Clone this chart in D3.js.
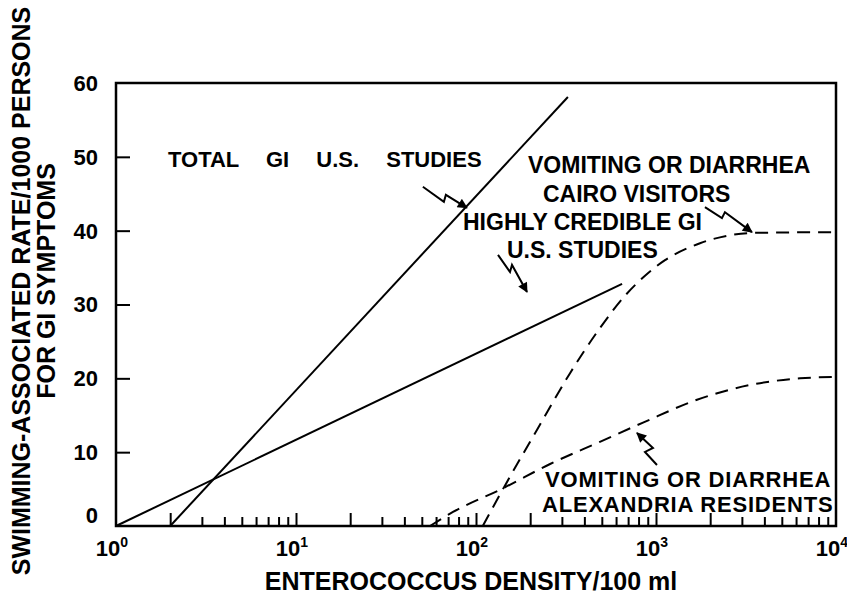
<!DOCTYPE html>
<html>
<head>
<meta charset="utf-8">
<script src="https://cdn.jsdelivr.net/npm/d3@7"></script>
<style>
  body { margin: 0; background: #fff; }
  text { font-family: "Liberation Sans", Arial, sans-serif; font-weight: bold; fill: #000; }
</style>
</head>
<body>
<svg id="chart"></svg>
<script>
// Axis values
const xDecades = [1, 10, 100, 1000, 10000];
const xExponents = ["0", "1", "2", "3", "4"];
const yTicks = [0, 10, 20, 30, 40, 50, 60];

// Series: [enterococcus density, rate per 1000]
const totalGI = [[2, 0], [324, 58.1]];
const credibleGI = [[1, 0], [648, 32.8]];
const cairoVisitors = [
    [109, 0], [145, 5.5], [218, 13.0], [333, 20.7], [488, 26.8], [673, 31.2],
    [869, 33.9], [1122, 36.0], [1756, 38.3], [2480, 39.3], [3457, 39.7],
    [10000, 39.8]
];
const alexandriaResidents = [
    [55.5, 0], [74.5, 1.9], [141, 5.1], [258, 8.4], [488, 11.4], [847, 14.0],
    [1690, 17.1], [3327, 19.1], [6310, 20.0], [10000, 20.2]
];

// Arrow tips (data units)
const arrowTips = [[89, 43.1], [192, 31.7], [3412, 39.8], [784, 12.6]];

const width = 847, height = 599;
const svg = d3.select("#chart")
    .attr("width", width)
    .attr("height", height);

svg.append("rect").attr("width", width).attr("height", height).attr("fill", "#fff");

const x = d3.scaleLog().domain([1, 10000]).range([116, 836]);
const y = d3.scaleLinear().domain([0, 60]).range([526, 83]);

// Minor ticks 2..9 in every decade
const minorTicks = [];
for (let k = 0; k < 4; k++) {
    for (let m = 2; m <= 9; m++) minorTicks.push(m * Math.pow(10, k));
}

// x ticks point up, inside the frame
const xMinor = svg.append("g")
    .attr("transform", `translate(0,${y(0)})`)
    .call(d3.axisBottom(x).tickValues(minorTicks).tickSize(-9).tickFormat(""));
const xMajor = svg.append("g")
    .attr("transform", `translate(0,${y(0)})`)
    .call(d3.axisBottom(x).tickValues([10, 100, 1000]).tickSize(-13).tickFormat(""));
xMinor.selectAll(".tick line").filter(d => String(d)[0] === "2").attr("y2", -13);

const yAxis = svg.append("g")
    .attr("transform", `translate(${x(1)},0)`)
    .call(d3.axisLeft(y).tickValues([10, 20, 30, 40, 50]).tickSize(-14).tickFormat(""));

[xMinor, xMajor, yAxis].forEach(g => {
    g.select(".domain").remove();
    g.selectAll(".tick line").attr("stroke", "#000").attr("stroke-width", 2);
});

// Frame
svg.append("rect")
    .attr("x", x(1)).attr("y", y(60))
    .attr("width", x(10000) - x(1)).attr("height", y(0) - y(60))
    .attr("fill", "none").attr("stroke", "#000").attr("stroke-width", 2.5);

// Tick labels
svg.selectAll(".ylab")
    .data(yTicks)
    .enter()
    .append("text")
    .attr("class", "ylab")
    .attr("x", 98)
    .attr("y", d => y(d) + (d === 0 ? -11 : 0))
    .attr("dy", "0.36em")
    .attr("text-anchor", "end")
    .attr("font-size", "22px")
    .text(d => d);

const xlab = svg.selectAll(".xlab")
    .data(xDecades)
    .enter()
    .append("text")
    .attr("class", "xlab")
    .attr("x", d => x(d) - 4)
    .attr("y", 556)
    .attr("text-anchor", "middle")
    .attr("font-size", "22px");
xlab.append("tspan").text("10");
xlab.append("tspan")
    .attr("dy", -9)
    .attr("font-size", "14px")
    .text((d, i) => xExponents[i]);

// Axis titles
svg.append("text")
    .attr("x", 471).attr("y", 590)
    .attr("text-anchor", "middle")
    .attr("font-size", "25px")
    .text("ENTEROCOCCUS DENSITY/100 ml");

svg.append("text")
    .attr("transform", "translate(30,291) rotate(-90)")
    .attr("text-anchor", "middle")
    .attr("font-size", "25px")
    .text("SWIMMING-ASSOCIATED RATE/1000 PERSONS");
svg.append("text")
    .attr("transform", "translate(55,281) rotate(-90)")
    .attr("text-anchor", "middle")
    .attr("font-size", "25px")
    .text("FOR GI SYMPTOMS");

// Lines
const straight = d3.line().x(d => x(d[0])).y(d => y(d[1]));
const curved = d3.line().x(d => x(d[0])).y(d => y(d[1])).curve(d3.curveMonotoneX);

[totalGI, credibleGI].forEach(s => {
    svg.append("path")
        .attr("d", straight(s))
        .attr("fill", "none")
        .attr("stroke", "#000")
        .attr("stroke-width", 2);
});

[cairoVisitors, alexandriaResidents].forEach(s => {
    svg.append("path")
        .attr("d", curved(s))
        .attr("fill", "none")
        .attr("stroke", "#000")
        .attr("stroke-width", 2)
        .attr("stroke-dasharray", "13,8");
});

// Lightning-bolt arrows
svg.append("defs").append("marker")
    .attr("id", "head")
    .attr("viewBox", "0 0 10 10")
    .attr("refX", 9).attr("refY", 5)
    .attr("markerWidth", 12).attr("markerHeight", 10)
    .attr("markerUnits", "userSpaceOnUse")
    .attr("orient", "auto")
    .append("path")
    .attr("d", "M0,0 L10,5 L0,10 z")
    .attr("fill", "#000");

// zigzag shapes relative to tip (pixels)
const boltShapes = [
    [[-44, -21], [-23, -6], [-21, -13], [0, 0]],
    [[-29, -37], [-17, -20], [-15, -27], [0, 0]],
    [[-47, -25], [-30, -14], [-27, -20], [0, 0]],
    [[20, 32], [8, 19], [16, 15], [0, 0]]
];

arrowTips.forEach((tip, i) => {
    const tx = x(tip[0]), ty = y(tip[1]);
    const pts = boltShapes[i].map(p => [tx + p[0], ty + p[1]]);
    svg.append("path")
        .attr("d", d3.line()(pts))
        .attr("fill", "none")
        .attr("stroke", "#000")
        .attr("stroke-width", 2)
        .attr("marker-end", "url(#head)");
});

// Curve labels
const labels = [
    { text: "TOTAL GI U.S. STUDIES", x: 168, y: 167, size: 22, spacing: 21 },
    { text: "VOMITING OR DIARRHEA", x: 528, y: 173 },
    { text: "CAIRO VISITORS", x: 543, y: 202 },
    { text: "HIGHLY CREDIBLE GI", x: 463, y: 230 },
    { text: "U.S. STUDIES", x: 507, y: 258 },
    { text: "VOMITING OR DIARRHEA", x: 545, y: 487, size: 22, letter: 0.8 },
    { text: "ALEXANDRIA RESIDENTS", x: 542, y: 512, size: 22, letter: 0.8 }
];

svg.selectAll(".curve-label")
    .data(labels)
    .enter()
    .append("text")
    .attr("class", "curve-label")
    .attr("x", d => d.x)
    .attr("y", d => d.y)
    .attr("font-size", d => (d.size || 23) + "px")
    .attr("word-spacing", d => d.spacing || 0)
    .attr("letter-spacing", d => d.letter || 0)
    .text(d => d.text);
</script>
</body>
</html>
